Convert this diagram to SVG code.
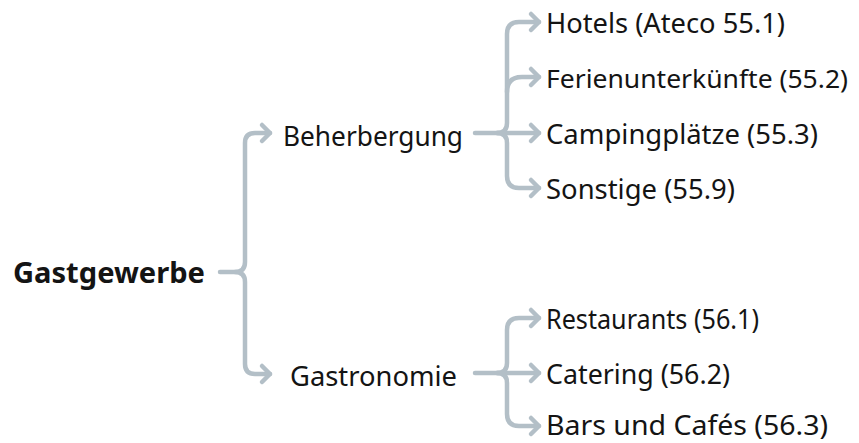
<svg xmlns="http://www.w3.org/2000/svg" width="859" height="443" viewBox="0 0 859 443">
<style>
.t{font-family:"Noto Sans","Open Sans","Liberation Sans",sans-serif;font-size:28px;fill:#141414}
.b{font-weight:bold}
.c{fill:none;stroke:#b3bfc7;stroke-width:4.5;stroke-linecap:round;stroke-linejoin:round}
</style>
<defs>
<marker id="ah" markerUnits="userSpaceOnUse" viewBox="-12 -12 16 24" refX="0" refY="0" markerWidth="16" markerHeight="24" orient="auto">
<path d="M-8,-8 L0,0 L-8,8" fill="none" stroke="#b3bfc7" stroke-width="4.5" stroke-linecap="round" stroke-linejoin="round"/>
</marker>
</defs>
<rect width="859" height="443" fill="#ffffff"/>
<g id="connectors">
<path class="c" d="M220,272 H235 Q245,272 245,262 V143 Q245,133 255,133 H270" marker-end="url(#ah)"/>
<path class="c" d="M235,272 Q245,272 245,282 V364 Q245,374 255,374 H270" marker-end="url(#ah)"/>
<path class="c" d="M475,133 H539" marker-end="url(#ah)"/>
<path class="c" d="M497,133 Q507,133 507,123 V34 Q507,22 519,22 H539" marker-end="url(#ah)"/>
<path class="c" d="M507,92 Q507,77 522,77 H539" marker-end="url(#ah)"/>
<path class="c" d="M497,133 Q507,133 507,143 V176 Q507,188 519,188 H539" marker-end="url(#ah)"/>
<path class="c" d="M475,373 H539" marker-end="url(#ah)"/>
<path class="c" d="M497,373 Q507,373 507,363 V330 Q507,318 519,318 H539" marker-end="url(#ah)"/>
<path class="c" d="M497,373 Q507,373 507,383 V414 Q507,426 519,426 H539" marker-end="url(#ah)"/>
</g>
<g id="n-gastgewerbe"><text class="t b" x="13" y="283" textLength="192" lengthAdjust="spacingAndGlyphs">Gastgewerbe</text></g>
<g id="n-beherbergung"><text class="t" x="283" y="146" textLength="180" lengthAdjust="spacingAndGlyphs">Beherbergung</text></g>
<g id="n-gastronomie"><text class="t" x="290" y="386" textLength="167" lengthAdjust="spacingAndGlyphs">Gastronomie</text></g>
<g id="n-hotels"><text class="t" x="546" y="33" textLength="239" lengthAdjust="spacingAndGlyphs">Hotels (Ateco 55.1)</text></g>
<g id="n-ferien"><text class="t" x="546" y="88" style="font-size:25px" textLength="302" lengthAdjust="spacingAndGlyphs">Ferienunterkünfte (55.2)</text></g>
<g id="n-camping"><text class="t" x="546" y="144" textLength="272" lengthAdjust="spacingAndGlyphs">Campingplätze (55.3)</text></g>
<g id="n-sonstige"><text class="t" x="546" y="199" textLength="189" lengthAdjust="spacingAndGlyphs">Sonstige (55.9)</text></g>
<g id="n-restaurants"><text class="t" x="546" y="329" textLength="213" lengthAdjust="spacingAndGlyphs">Restaurants (56.1)</text></g>
<g id="n-catering"><text class="t" x="546" y="384" textLength="184" lengthAdjust="spacingAndGlyphs">Catering (56.2)</text></g>
<g id="n-bars"><text class="t" x="546" y="435" textLength="282" lengthAdjust="spacingAndGlyphs">Bars und Cafés (56.3)</text></g>
</svg>
